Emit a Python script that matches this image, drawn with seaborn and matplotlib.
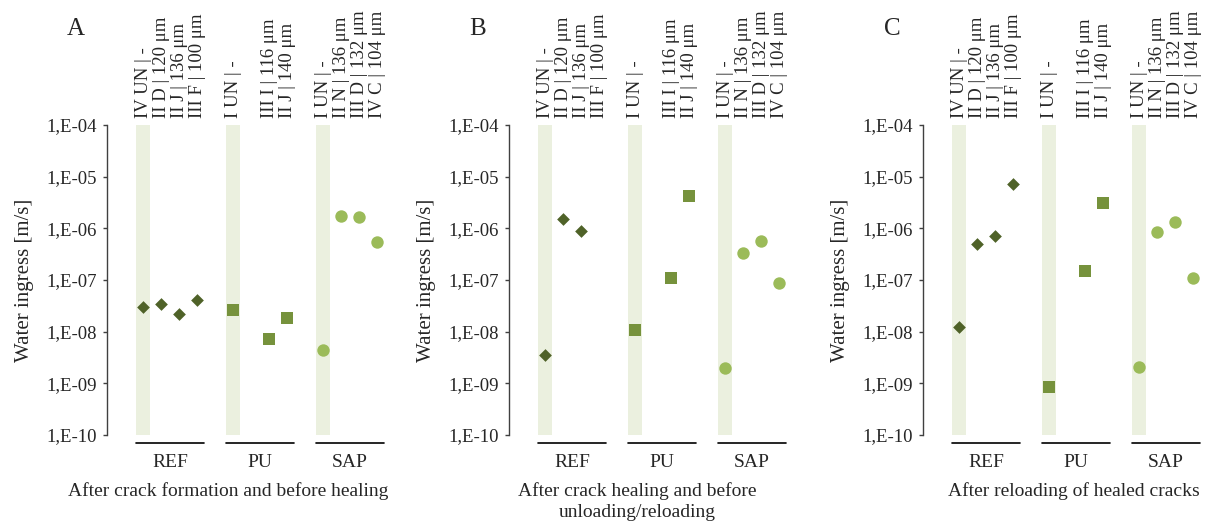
import numpy as np
import pandas as pd
import matplotlib
matplotlib.use("Agg")
import matplotlib.pyplot as plt
import matplotlib.transforms as mtransforms
from matplotlib.ticker import FixedLocator, FuncFormatter, NullLocator
import seaborn as sns

# ---------------- data ----------------
groups = ["REF", "PU", "SAP"]
ref_labels = ["IV UN | -", "II D | 120 μm", "II J | 136 μm", "III F | 100 μm"]
pu_labels = ["I UN | -", "", "III I | 116 μm", "II J | 140 μm"]
sap_labels = ["I UN | -", "II N | 136 μm", "III D | 132 μm", "IV C | 104 μm"]

panel_letters = ["A", "B", "C"]
panel_captions = ["After crack formation and before healing",
                  "After crack healing and before\nunloading/reloading",
                  "After reloading of healed cracks"]

# values (m/s), one list per group per panel; NaN = no specimen/measurement
ref_A = [3.0e-8, 3.5e-8, 2.2e-8, 4.1e-8]
pu_A = [2.6e-8, np.nan, 7.3e-9, 1.8e-8]
sap_A = [4.5e-9, 1.7e-6, 1.65e-6, 5.4e-7]

ref_B = [3.5e-9, 1.5e-6, 8.7e-7, np.nan]
pu_B = [1.06e-8, np.nan, 1.08e-7, 4.3e-6]
sap_B = [2.0e-9, 3.3e-7, 5.7e-7, 8.7e-8]

ref_C = [1.25e-8, 4.9e-7, 7.2e-7, 7.1e-6]
pu_C = [8.5e-10, np.nan, 1.47e-7, 3.1e-6]
sap_C = [2.05e-9, 8.5e-7, 1.3e-6, 1.09e-7]

values = {"A": [ref_A, pu_A, sap_A],
          "B": [ref_B, pu_B, sap_B],
          "C": [ref_C, pu_C, sap_C]}

ytick_exps = [-10, -9, -8, -7, -6, -5, -4]

# ---------------- style ----------------
sns.set_theme(style="white")
plt.rcParams["font.family"] = ["Liberation Serif", "DejaVu Serif"]

colors = {"REF": "#4F6228", "PU": "#76923C", "SAP": "#9BBB59"}
markers = {"REF": "D", "PU": "s", "SAP": "o"}
sizes = {"REF": 42, "PU": 72, "SAP": 80}
band_color = "#EBF0DF"

# slot layout: 4 slots per group, one empty slot between groups
slot_labels = ref_labels + [""] + pu_labels + [""] + sap_labels
group_slots = {"REF": list(range(0, 4)), "PU": list(range(5, 9)), "SAP": list(range(10, 14))}

W, H = 1206, 528
fig = plt.figure(figsize=(W / 100, H / 100), dpi=100)

axes_left_px = [107, 509, 923]
ax_w_px = 279
ax_top_px, ax_bot_px = 125, 435
caption_cx_px = [228, 637, 1074]
letter_x_px = [76, 478, 892]

for p, letter in enumerate(panel_letters):
    left = axes_left_px[p]
    ax = fig.add_axes([left / W, (H - ax_bot_px) / H, ax_w_px / W, (ax_bot_px - ax_top_px) / H])

    rows = []
    for g, vals in zip(groups, values[letter]):
        for slot, v in zip(group_slots[g], vals):
            if not np.isnan(v):
                rows.append({"x": slot, "value": v, "group": g})
    df = pd.DataFrame(rows)

    ax.set_yscale("log")
    # light band behind the uncracked reference of each group
    band_x = [group_slots[g][0] for g in groups]
    ax.bar(band_x, [1e-4 - 1e-10] * 3, bottom=1e-10, width=0.78,
           color=band_color, zorder=0, linewidth=0)

    for g in groups:
        sub = df[df["group"] == g]
        sns.scatterplot(data=sub, x="x", y="value", ax=ax, marker=markers[g],
                        color=colors[g], s=sizes[g], linewidth=0, zorder=3,
                        legend=False, clip_on=False)

    ax.set_xlim(-2, 13.5)
    ax.set_ylim(1e-10, 1e-4)
    ax.yaxis.set_major_locator(FixedLocator([10.0 ** e for e in ytick_exps]))
    ax.yaxis.set_minor_locator(NullLocator())
    ax.yaxis.set_major_formatter(FuncFormatter(lambda v, pos: "1,E-%02d" % int(round(-np.log10(v)))))
    ax.set_xticks([])
    ax.set_xlabel("")
    ax.set_ylabel("Water ingress [m/s]", fontsize=15)
    ax.yaxis.set_label_coords(-0.262, 0.5)
    ax.tick_params(axis="y", which="major", direction="out", length=3, width=1,
                   color="#404040", labelsize=13.5, pad=4, left=True)
    for s in ["top", "right", "bottom"]:
        ax.spines[s].set_visible(False)
    ax.spines["left"].set_color("#404040")
    ax.spines["left"].set_linewidth(1)

    trans = mtransforms.blended_transform_factory(ax.transData, ax.transAxes)
    # rotated specimen labels at top
    for i, lab in enumerate(slot_labels):
        if lab:
            ax.text(i, 1.022, lab, rotation=90, ha="center", va="bottom",
                    fontsize=13.5, transform=trans, clip_on=False)
    # group underline and label
    for g in groups:
        sl = group_slots[g]
        ax.plot([sl[0] - 0.4, sl[-1] + 0.4], [-0.026, -0.026], color="black",
                lw=1.2, transform=trans, clip_on=False)
        ax.text((sl[0] + sl[-1]) / 2, -0.09, g, ha="center", va="center",
                fontsize=14, transform=trans, clip_on=False)

    fig.text(letter_x_px[p] / W, 1 - 29 / H, letter, ha="center", va="center", fontsize=18)
    fig.text(caption_cx_px[p] / W, 1 - 482 / H, panel_captions[p], ha="center", va="top",
             fontsize=14, linespacing=1.3)

fig.savefig("out.png", dpi=100)
